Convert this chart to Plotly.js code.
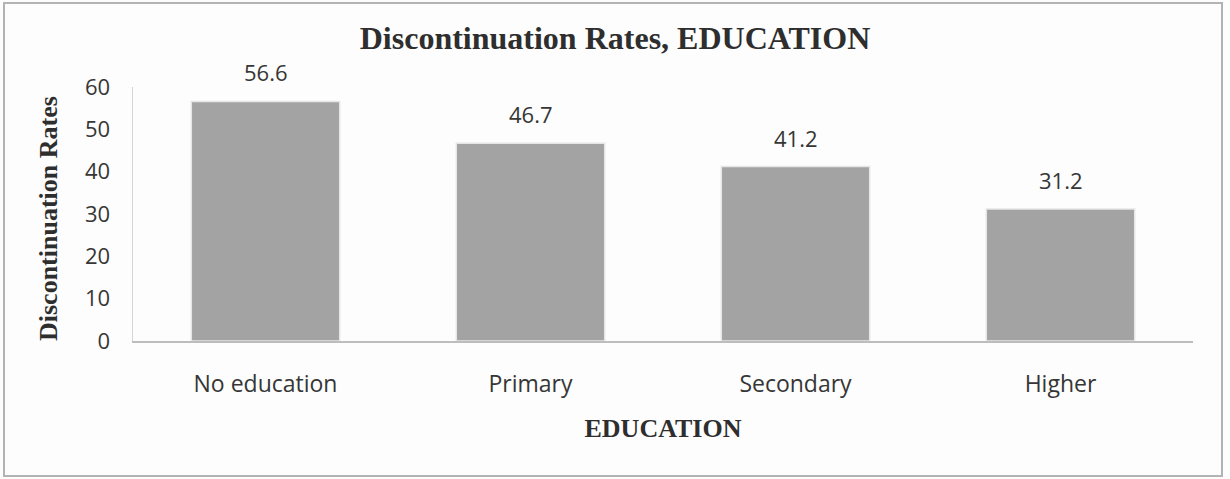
<!DOCTYPE html>
<html>
<head>
<meta charset="utf-8">
<script src="https://cdn.plot.ly/plotly-3.0.1.min.js"></script>
<style>
  html, body { margin: 0; padding: 0; background: #ffffff; }
  #chart { width: 1230px; height: 479px; }
</style>
</head>
<body>
<div id="chart"></div>
<script>
// Discontinuation rates by education level
const categories = ["No education", "Primary", "Secondary", "Higher"];
const rates = [56.6, 46.7, 41.2, 31.2];
const yTicks = [0, 10, 20, 30, 40, 50, 60];

const W = 1230, H = 479;
const M = { l: 133, r: 37, t: 87, b: 138 };
const pw = W - M.l - M.r, ph = H - M.t - M.b;
// convert pixel positions into paper coordinates
const px = x => (x - M.l) / pw;
const py = y => (H - M.b - y) / ph;

const sans = "Open Sans, Liberation Sans, sans-serif";
const serif = "Liberation Serif, Times New Roman, serif";
const textColor = "#363636";
const titleColor = "#2e2e2e";

const trace = {
  type: "bar",
  x: categories,
  y: rates,
  marker: { color: "#a3a3a3", line: { color: "#e6e6e6", width: 1.5 } },
  width: 0.56,
  hoverinfo: "skip"
};

const valueLabels = categories.map((c, i) => ({
  x: c, y: rates[i], xref: "x", yref: "y",
  text: rates[i].toFixed(1),
  showarrow: false, yanchor: "bottom", yshift: 12,
  font: { family: sans, size: 22, color: textColor }
}));

// vertical axis title, placed beside the tick labels
const yTitle = {
  xref: "paper", yref: "paper",
  x: px(48), y: py(219), xanchor: "center", yanchor: "middle",
  text: "<b>Discontinuation Rates</b>", textangle: -90, showarrow: false,
  font: { family: serif, size: 26, color: titleColor }
};

const layout = {
  width: W, height: H,
  margin: M,
  paper_bgcolor: "#fdfdfd",
  plot_bgcolor: "#fdfdfd",
  showlegend: false,
  title: {
    text: "<b>Discontinuation Rates, EDUCATION</b>",
    font: { family: serif, size: 32, color: titleColor },
    x: 0.5, xanchor: "center", y: 1 - 38 / H, yanchor: "middle"
  },
  xaxis: {
    type: "category",
    showgrid: false, zeroline: false,
    showline: true, linecolor: "#bdbdbd", linewidth: 1.5,
    ticks: "", ticklabelstandoff: 22,
    tickfont: { family: sans, size: 23, color: textColor },
    title: {
      text: "<b>EDUCATION</b>",
      font: { family: serif, size: 26, color: titleColor },
      standoff: 20
    }
  },
  yaxis: {
    range: [0, 60],
    tickvals: yTicks,
    ticktext: yTicks.map(String),
    showgrid: false, zeroline: false,
    showline: true, linecolor: "#d4d4d4", linewidth: 1.5,
    ticks: "", ticklabelstandoff: 17,
    tickfont: { family: sans, size: 22, color: textColor }
  },
  annotations: valueLabels.concat([yTitle]),
  shapes: [{
    type: "rect", xref: "paper", yref: "paper",
    x0: px(4), x1: px(1222), y0: py(476), y1: py(3),
    line: { color: "#b3b3b3", width: 2 },
    fillcolor: "rgba(0,0,0,0)", layer: "below"
  }]
};

Plotly.newPlot("chart", [trace], layout, { staticPlot: true, displayModeBar: false });
</script>
</body>
</html>
